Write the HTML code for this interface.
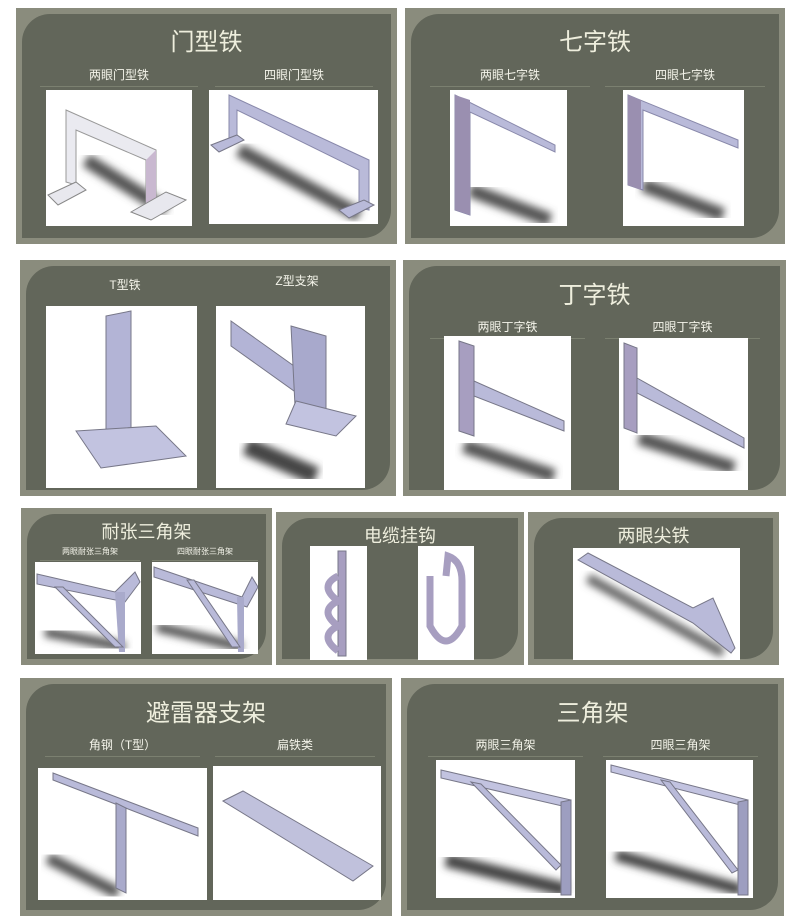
<!DOCTYPE html>
<html><head><meta charset="utf-8"><style>
body{margin:0;width:800px;height:923px;background:#fff;position:relative;overflow:hidden;font-family:"Liberation Sans","Noto Sans CJK SC",sans-serif}
.p{position:absolute;background:#8a8c7d}
.in{position:absolute;left:6px;top:6px;right:6px;bottom:6px;background:#62665a;border-radius:28px 0 28px 0}
.t{position:absolute;color:#eeeedd;text-align:center;white-space:nowrap}
.s{position:absolute;color:#f4f4ea;text-align:center;font-size:12px;white-space:nowrap;border-bottom:1px solid #7b8070;padding-bottom:3px}
.im{position:absolute;background:#fff;overflow:hidden}
.im svg{width:100%;height:100%;display:block}
</style></head><body>
<svg width="0" height="0" style="position:absolute"><defs><filter id="b"><feGaussianBlur stdDeviation="4"/></filter></defs></svg>

<!-- P1 -->
<div class="p" style="left:16px;top:8px;width:381px;height:236px"><div class="in"></div></div>
<div class="t" style="left:16px;top:22px;width:381px;font-size:24px">门型铁</div>
<div class="s" style="left:40px;top:66px;width:158px">两眼门型铁</div>
<div class="s" style="left:215px;top:66px;width:158px">四眼门型铁</div>
<div class="im" style="left:46px;top:90px;width:146px;height:136px"><svg viewBox="0 0 146 136"><path d="M40 70 L120 120" stroke="#555" stroke-width="14" filter="url(#b)"/><polygon points="20,20 110,60 110,120 100,118 100,70 30,40 30,95 20,92" fill="#eaeaf0" stroke="#999"/><polygon points="100,70 110,60 110,120 100,118" fill="#c9b8d0"/><polygon points="2,105 30,92 40,100 12,115" fill="#e8e8ee" stroke="#888"/><polygon points="85,122 120,102 140,110 105,130" fill="#e8e8ee" stroke="#888"/></svg></div>
<div class="im" style="left:209px;top:90px;width:169px;height:134px"><svg viewBox="0 0 169 134"><path d="M30 60 L150 125" stroke="#555" stroke-width="14" filter="url(#b)"/><polygon points="20,5 160,70 160,120 150,118 150,80 28,20 28,50 20,55" fill="#b9bad9" stroke="#8888aa"/><polygon points="2,55 28,45 35,50 10,62" fill="#b9bad9" stroke="#778"/><polygon points="130,120 155,110 165,115 140,128" fill="#b9bad9" stroke="#778"/></svg></div>

<!-- P2 -->
<div class="p" style="left:405px;top:8px;width:380px;height:236px"><div class="in"></div></div>
<div class="t" style="left:405px;top:22px;width:380px;font-size:24px">七字铁</div>
<div class="s" style="left:430px;top:66px;width:160px">两眼七字铁</div>
<div class="s" style="left:605px;top:66px;width:160px">四眼七字铁</div>
<div class="im" style="left:450px;top:90px;width:117px;height:136px"><svg viewBox="0 0 117 136"><path d="M20 100 L100 130" stroke="#555" stroke-width="14" filter="url(#b)"/><polygon points="5,5 105,55 105,62 20,22 20,125 5,120" fill="#b9bad9" stroke="#8888aa"/><polygon points="5,5 20,10 20,125 5,120" fill="#9a8fb0"/></svg></div>
<div class="im" style="left:623px;top:90px;width:121px;height:136px"><svg viewBox="0 0 121 136"><path d="M20 95 L100 125" stroke="#555" stroke-width="14" filter="url(#b)"/><polygon points="5,5 115,50 115,58 20,20 20,100 5,95" fill="#b9bad9" stroke="#8888aa"/><polygon points="5,5 18,10 18,100 5,95" fill="#9a8fb0"/></svg></div>

<!-- P3 -->
<div class="p" style="left:20px;top:260px;width:376px;height:236px"><div class="in"></div></div>
<div class="s" style="left:60px;top:276px;width:130px;border:0">T型铁</div>
<div class="s" style="left:232px;top:272px;width:130px;border:0">Z型支架</div>
<div class="im" style="left:46px;top:306px;width:151px;height:182px"><svg viewBox="0 0 151 182"><polygon points="60,10 85,5 85,140 60,145" fill="#b3b4d6" stroke="#778"/><polygon points="30,125 110,120 140,150 55,162" fill="#c2c3e0" stroke="#778"/></svg></div>
<div class="im" style="left:216px;top:306px;width:149px;height:182px"><svg viewBox="0 0 149 182"><path d="M30 140 L100 170" stroke="#444" stroke-width="18" filter="url(#b)"/><polygon points="15,15 85,65 85,90 15,40" fill="#b3b4d6" stroke="#778"/><polygon points="75,20 110,30 110,110 80,120" fill="#a8a9cc" stroke="#778"/><polygon points="80,95 140,110 120,130 70,118" fill="#c2c3e0" stroke="#778"/></svg></div>

<!-- P4 -->
<div class="p" style="left:403px;top:260px;width:383px;height:236px"><div class="in"></div></div>
<div class="t" style="left:403px;top:275px;width:383px;font-size:24px">丁字铁</div>
<div class="s" style="left:430px;top:318px;width:155px">两眼丁字铁</div>
<div class="s" style="left:605px;top:318px;width:155px">四眼丁字铁</div>
<div class="im" style="left:444px;top:336px;width:127px;height:154px"><svg viewBox="0 0 127 154"><path d="M20 110 L110 140" stroke="#555" stroke-width="14" filter="url(#b)"/><polygon points="15,5 30,10 30,100 15,95" fill="#a79ec0" stroke="#778"/><polygon points="30,45 120,85 120,95 30,60" fill="#b9bad9" stroke="#778"/></svg></div>
<div class="im" style="left:619px;top:338px;width:129px;height:152px"><svg viewBox="0 0 129 152"><path d="M20 100 L115 130" stroke="#555" stroke-width="14" filter="url(#b)"/><polygon points="5,5 18,10 18,95 5,90" fill="#a79ec0" stroke="#778"/><polygon points="18,40 125,100 125,110 18,55" fill="#b9bad9" stroke="#778"/></svg></div>

<!-- P5 -->
<div class="p" style="left:21px;top:508px;width:251px;height:157px"><div class="in"></div></div>
<div class="t" style="left:21px;top:518px;width:251px;font-size:18px">耐张三角架</div>
<div class="s" style="left:40px;top:546px;width:100px;font-size:8px">两眼耐张三角架</div>
<div class="s" style="left:152px;top:546px;width:106px;font-size:8px">四眼耐张三角架</div>
<div class="im" style="left:35px;top:562px;width:106px;height:92px"><svg viewBox="0 0 106 92"><path d="M10 70 L90 85" stroke="#555" stroke-width="10" filter="url(#b)"/><polygon points="2,12 80,30 100,10 105,20 90,40 2,22" fill="#b9bad9" stroke="#778"/><polygon points="80,30 90,30 90,90 84,90" fill="#a9aacb"/><polygon points="20,25 28,25 88,85 80,85" fill="#b9bad9" stroke="#778"/></svg></div>
<div class="im" style="left:152px;top:562px;width:106px;height:92px"><svg viewBox="0 0 106 92"><path d="M5 65 L90 85" stroke="#555" stroke-width="10" filter="url(#b)"/><polygon points="2,5 90,35 100,15 106,25 95,45 2,15" fill="#b9bad9" stroke="#778"/><polygon points="85,35 92,35 92,90 86,90" fill="#a9aacb"/><polygon points="35,18 42,18 88,85 80,85" fill="#b9bad9" stroke="#778"/></svg></div>

<!-- P6 -->
<div class="p" style="left:276px;top:512px;width:248px;height:153px"><div class="in"></div></div>
<div class="t" style="left:276px;top:522px;width:248px;font-size:18px">电缆挂钩</div>
<div class="im" style="left:310px;top:546px;width:57px;height:114px"><svg viewBox="0 0 57 114"><polygon points="28,5 36,5 36,110 28,110" fill="#a79ec0" stroke="#778"/><path d="M28 30 Q8 40 28 55 Q8 65 28 80 Q8 90 28 105" stroke="#a79ec0" stroke-width="7" fill="none"/></svg></div>
<div class="im" style="left:418px;top:546px;width:56px;height:114px"><svg viewBox="0 0 56 114"><path d="M12 30 L12 80 Q28 110 44 80 L44 35 Q44 15 30 10 L28 30" stroke="#a79ec0" stroke-width="7" fill="none"/></svg></div>

<!-- P7 -->
<div class="p" style="left:528px;top:512px;width:251px;height:153px"><div class="in"></div></div>
<div class="t" style="left:528px;top:522px;width:251px;font-size:18px">两眼尖铁</div>
<div class="im" style="left:573px;top:548px;width:167px;height:112px"><svg viewBox="0 0 167 112"><path d="M15 30 L150 105" stroke="#666" stroke-width="10" filter="url(#b)"/><polygon points="5,12 15,5 120,60 140,50 162,100 158,105 120,75" fill="#b9bad9" stroke="#778"/></svg></div>

<!-- P8 -->
<div class="p" style="left:20px;top:678px;width:372px;height:238px"><div class="in"></div></div>
<div class="t" style="left:20px;top:693px;width:372px;font-size:24px">避雷器支架</div>
<div class="s" style="left:45px;top:736px;width:155px">角钢（T型）</div>
<div class="s" style="left:215px;top:736px;width:160px">扁铁类</div>
<div class="im" style="left:38px;top:768px;width:169px;height:132px"><svg viewBox="0 0 169 132"><path d="M10 90 L80 125" stroke="#555" stroke-width="12" filter="url(#b)"/><polygon points="15,5 160,60 160,68 15,12" fill="#b9bad9" stroke="#778"/><polygon points="78,35 88,40 88,125 78,120" fill="#a9aacb" stroke="#778"/></svg></div>
<div class="im" style="left:213px;top:766px;width:168px;height:134px"><svg viewBox="0 0 168 134"><polygon points="10,35 30,25 160,100 140,115" fill="#c0c1dc" stroke="#778"/></svg></div>

<!-- P9 -->
<div class="p" style="left:401px;top:678px;width:383px;height:238px"><div class="in"></div></div>
<div class="t" style="left:401px;top:693px;width:383px;font-size:24px">三角架</div>
<div class="s" style="left:428px;top:736px;width:155px">两眼三角架</div>
<div class="s" style="left:603px;top:736px;width:155px">四眼三角架</div>
<div class="im" style="left:436px;top:760px;width:139px;height:138px"><svg viewBox="0 0 139 138"><path d="M10 100 L130 130" stroke="#444" stroke-width="14" filter="url(#b)"/><polygon points="5,10 135,40 135,48 5,18" fill="#c2c3e0" stroke="#778"/><polygon points="125,42 135,40 135,135 125,135" fill="#9d9ec0" stroke="#778"/><polygon points="35,22 45,24 125,105 120,110" fill="#b9bad9" stroke="#778"/></svg></div>
<div class="im" style="left:606px;top:760px;width:147px;height:138px"><svg viewBox="0 0 147 138"><path d="M10 95 L135 130" stroke="#444" stroke-width="12" filter="url(#b)"/><polygon points="5,5 142,40 142,47 5,12" fill="#c2c3e0" stroke="#778"/><polygon points="132,42 142,40 142,135 132,135" fill="#9d9ec0" stroke="#778"/><polygon points="55,20 64,22 132,110 126,113" fill="#b9bad9" stroke="#778"/></svg></div>
</body></html>
